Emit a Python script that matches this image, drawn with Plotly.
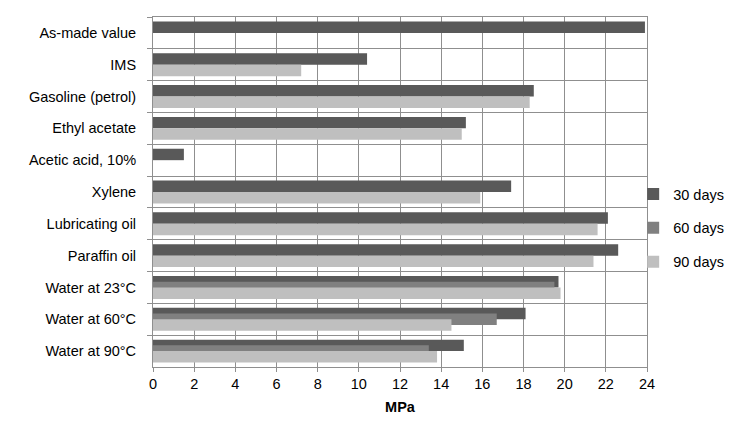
import plotly.graph_objects as go

categories = ["As-made value", "IMS", "Gasoline (petrol)", "Ethyl acetate",
              "Acetic acid, 10%", "Xylene", "Lubricating oil", "Paraffin oil",
              "Water at 23°C", "Water at 60°C", "Water at 90°C"]
days30 = [23.9, 10.4, 18.5, 15.2, 1.5, 17.4, 22.1, 22.6, 19.7, 18.1, 15.1]
days60 = [None, None, None, None, None, None, None, None, 19.5, 16.7, 13.4]
days90 = [None, 7.2, 18.3, 15.0, None, 15.9, 21.6, 21.4, 19.8, 14.5, 13.8]
series_names = ["30 days", "60 days", "90 days"]
x_ticks = list(range(0, 25, 2))

colors = ["#595959", "#808080", "#bfbfbf"]
offsets = [-0.36, -0.18, 0.0]
fig = go.Figure()
for i, (name, vals) in enumerate(zip(series_names, [days30, days60, days90])):
    fig.add_trace(go.Bar(
        y=categories, x=vals, name=name, orientation="h",
        marker=dict(color=colors[i], line=dict(width=0)),
        width=0.36, offset=offsets[i], legendgroup=name,
    ))

grid = "#8f8f8f"
fs = 14.5
fig.update_layout(
    barmode="overlay",
    width=746, height=434,
    margin=dict(l=145, r=107, t=9, b=75, autoexpand=False),
    paper_bgcolor="white", plot_bgcolor="white",
    font=dict(family="Liberation Sans, Arial, sans-serif", size=fs, color="#000000"),
    legend=dict(x=0.972, y=0.397, xanchor="left", yanchor="middle",
                bgcolor="rgba(0,0,0,0)",
                font=dict(size=fs), tracegroupgap=12, itemwidth=30),
    showlegend=True,
)
fig.update_xaxes(
    range=[0, 24], tickvals=x_ticks, ticktext=[str(v) for v in x_ticks],
    showgrid=True, gridcolor=grid, gridwidth=1,
    showline=True, linecolor=grid, linewidth=1, mirror=True,
    ticks="outside", ticklen=4, tickcolor=grid, zeroline=False,
    title=dict(text="<b>MPa</b>", font=dict(size=fs), standoff=10),
    tickfont=dict(size=fs), automargin=False,
)
fig.update_yaxes(
    type="category", autorange="reversed", categoryorder="array", categoryarray=categories,
    tickson="boundaries", showgrid=True, gridcolor=grid, gridwidth=1,
    showline=True, linecolor=grid, linewidth=1, mirror=True,
    ticks="outside", ticklen=5, tickcolor=grid,
    tickfont=dict(size=fs), ticklabelstandoff=13, automargin=False,
)
fig.write_html("out.html")
